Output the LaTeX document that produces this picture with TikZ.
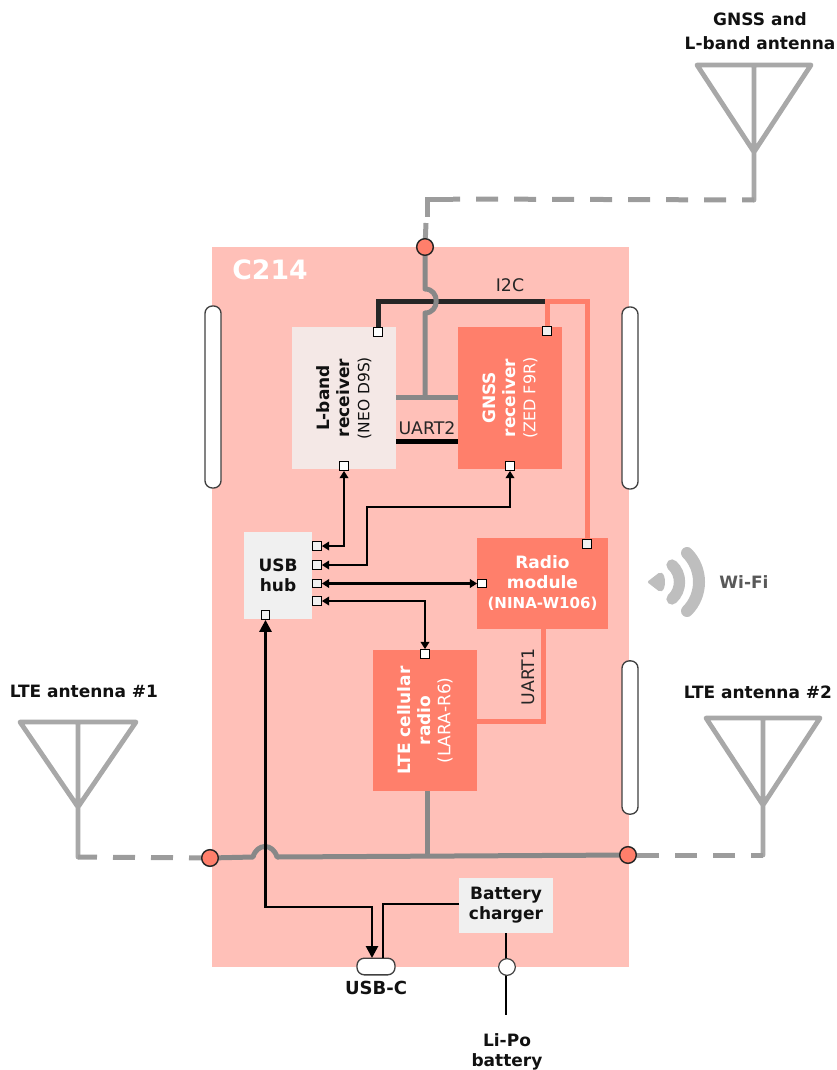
\documentclass[tikz,border=0pt]{standalone}
\usepackage{fontspec}
\setmainfont{DejaVu Sans}
\usetikzlibrary{arrows.meta}
\definecolor{panel}{HTML}{FFC0B8}
\definecolor{coral}{HTML}{FF7F6B}
\definecolor{lband}{HTML}{F4E8E6}
\definecolor{lgrey}{HTML}{F0F0F0}
\definecolor{ant}{HTML}{A8A8A8}
\definecolor{dashc}{HTML}{9C9C9C}
\definecolor{rf}{HTML}{888888}
\definecolor{ink}{HTML}{111111}
\definecolor{wifi}{HTML}{BEBEBE}
\newcommand{\boldf}{\fontsize{12.75}{15}\selectfont\bfseries}
\newcommand{\regf}[1]{\fontsize{#1}{15}\selectfont\mdseries}
\tikzset{
  x=0.75pt,y=-0.75pt,
  box/.style={inner sep=0pt,align=center,font=\boldf},
  pill/.style={draw=black!75,fill=white,line width=1pt,rounded corners=5.5pt,inner sep=0pt,minimum width=12pt},
  port/.style={draw=black,fill=white,line width=0.9pt,inner sep=0pt,minimum size=6.4pt},
  gport/.style={port,fill=lgrey},
  rfdot/.style={circle,draw=black!85,fill=coral,line width=1.1pt,inner sep=0pt,minimum size=12.5pt},
  lab/.style={font=\boldf,text=ink,align=center,inner sep=0pt},
  small/.style={font=\fontsize{13}{15}\selectfont,text=black!85,inner sep=0pt},
  antenna/.style={draw=ant,line width=3.6pt,line join=round,line cap=round},
  dashline/.style={draw=dashc,line width=3.75pt,dash pattern=on 16.5pt off 12pt},
  rfline/.style={draw=rf,line width=3.75pt,line join=round},
  orangeline/.style={draw=coral,line width=3.75pt,line join=miter},
  i2cline/.style={draw=black!85,line width=3.75pt,line join=miter},
  sig/.style={draw=black,line width=1.9pt,line join=miter,{Triangle[width=6.5pt,length=5.5pt]}-{Triangle[width=6.5pt,length=5.5pt]}},
  pwr/.style={draw=black,line width=1.9pt,line join=miter}
}
\begin{document}
\begin{tikzpicture}
\useasboundingbox (0,0) rectangle (836,1070);
% board
\node[fill=panel,inner sep=0pt,minimum width=312.75pt,minimum height=540pt] (board) at (420.5,607) {};
\node[font=\fontsize{20}{24}\selectfont\bfseries,text=white,inner sep=0pt] (title) at (270,270) {C214};
% side slots
\node[pill,minimum height=136.5pt] (slotL) at (213,397) {};
\node[pill,minimum height=136.5pt] (slotR) at (630,398) {};
\node[pill,minimum height=115pt] (slotRb) at (630,737.5) {};
% blocks
\node[box,fill=lband,text=ink,rotate=90,minimum width=106.5pt,minimum height=78pt] (lb) at (344,398)
  {L-band\\receiver\\{\regf{11.6}(NEO D9S)}};
\node[box,fill=coral,text=white,rotate=90,minimum width=106.5pt,minimum height=78pt] (gnss) at (510,398)
  {GNSS\\receiver\\{\regf{12}(ZED F9R)}};
\node[box,fill=coral,text=white,minimum width=98.25pt,minimum height=68.25pt] (radio) at (542.5,583.5)
  {Radio\\module\\{\fontsize{11.3}{15}\selectfont(NINA-W106)}};
\node[box,fill=coral,text=white,rotate=90,minimum width=105.75pt,minimum height=78pt] (lte) at (425,720.5)
  {LTE cellular\\radio\\{\regf{12.8}(LARA-R6)}};
\node[box,fill=lgrey,text=ink,minimum width=51pt,minimum height=65.25pt] (hub) at (278,575.5) {USB\\hub};
\node[box,fill=lgrey,text=ink,minimum width=70.5pt,minimum height=41.25pt] (chg) at (506,905.5) {Battery\\charger};
% ports
\node[port] (pLT) at (378,332) {};
\node[gport] (pGT) at (547,331) {};
\node[port] (pLB) at (344,466) {};
\node[port] (pGB) at (510,466) {};
\node[gport] (pH1) at (317,546) {};
\node[gport] (pH2) at (317,565) {};
\node[gport] (pH3) at (317,583.5) {};
\node[gport] (pH4) at (317,601) {};
\node[gport] (pHB) at (265.5,615) {};
\node[port] (pRL) at (482,583.5) {};
\node[gport] (pRT) at (587,544) {};
\node[port] (pLC) at (425,654) {};
% connector points
\coordinate (kI) at (545,301);
\coordinate (kO) at (587,301);
\coordinate (kG) at (367,507);
\coordinate (kV) at (372,907);
\coordinate (usbIn) at (372,958);
\coordinate (chgIn) at (383,958);
\coordinate (chgK) at (383,904);
\coordinate (chgE) at (459,904);
\coordinate (batEnd) at (506,1015);
\coordinate (uartL) at (396,441);
\coordinate (uartR) at (458,441);
\coordinate (u1A) at (543,629);
\coordinate (u1B) at (543,721);
\coordinate (u1C) at (477,721);
\coordinate (lteB) at (427,791);
\coordinate (lteJ) at (427,856);
\coordinate (rfT) at (425,397);
% RF dots and terminals
\node[rfdot] (rfTop) at (425,247) {};
\node[rfdot] (rfL) at (210,858) {};
\node[rfdot] (rfR) at (628,855) {};
\node[pill,minimum width=28.5pt,minimum height=12.5pt] (usbc) at (376,966.5) {};
% I2C
\draw[orangeline] (pGT) |- (kO) -- (pRT);
\draw[i2cline] (pLT) |- (kI);
% RF wiring inside board
\draw[rfline] (rfTop) -- (425,289) .. controls (440,289) and (440,313) .. (425,313) -- (rfT);
\draw[rfline] (396,397) -- (458,397);
\draw[rfline] (rfL) -- (253,857) .. controls (257,843) and (273,843) .. (277,857) -- (rfR);
\draw[rfline] (lteB) -- (lteJ);
% UARTs
\draw[draw=black,line width=3.75pt] (uartL) -- (uartR);
\node[small] (uart2) at (427,428) {UART2};
\draw[orangeline] (u1A) -- (u1B) -- (u1C);
\node[small,rotate=90] (uart1) at (528,677) {UART1};
\node[small] (i2c) at (510,285) {I2C};
% USB signals
\draw[sig] (pLB) |- (pH1);
\draw[sig] (pGB) |- (kG) |- (pH2);
\draw[sig] (pH3) -- (pRL);
\draw[sig] (pH4) -| (pLC);
\draw[draw=black,line width=2pt,line join=miter,{Triangle[width=9pt,length=9pt]}-{Triangle[width=9pt,length=9pt]}] (pHB) |- (kV) -- (usbIn);
\draw[pwr] (chgE) -- (chgK) -- (chgIn);
% battery
\draw[pwr] (chg) -- (batEnd);
\node[circle,draw=black!75,fill=white,line width=0.9pt,inner sep=0pt,minimum size=12.5pt] (batDot) at (507,967) {};
% antennas
\coordinate (a1L) at (20,722); \coordinate (a1R) at (136,722); \coordinate (a1A) at (78,807); \coordinate (a1T) at (78,722); \coordinate (a1C) at (78,857);
\coordinate (a2L) at (706,718); \coordinate (a2R) at (820,718); \coordinate (a2A) at (763,805); \coordinate (a2T) at (763,718); \coordinate (a2C) at (763,855);
\coordinate (a3L) at (697,65); \coordinate (a3R) at (811,65); \coordinate (a3A) at (754,152); \coordinate (a3T) at (754,65); \coordinate (a3C) at (754,200);
\draw[antenna] (a1L) -- (a1R) -- (a1A) -- cycle (a1T) -- (a1C);
\draw[antenna] (a2L) -- (a2R) -- (a2A) -- cycle (a2T) -- (a2C);
\draw[antenna] (a3L) -- (a3R) -- (a3A) -- cycle (a3T) -- (a3C);
\draw[dashline,dash phase=2.25pt] (a1C) -- (rfL);
\draw[dashline,dash phase=7.5pt] (a2C) -- (rfR);
\coordinate (gd1) at (453,199); \coordinate (gd2) at (427,199); \coordinate (gd3) at (427,217); \coordinate (gd4) at (426,223);
\draw[dashline,dash phase=7.5pt] (a3C) -- (gd1);
\draw[draw=dashc,line width=3.75pt,line join=miter] (gd1) -- (gd2) -- (gd3);
\draw[draw=dashc,line width=3.75pt] (gd4) -- (rfTop);
% wifi
\fill[wifi,rounded corners=1.5pt] (647,582) -- (660,572) .. controls (666,575) and (666,589) .. (660,592) -- cycle;
\draw[wifi,line width=8.5pt,line cap=round] (672,565) .. controls (682,574) and (682,590) .. (672,599);
\draw[wifi,line width=9pt,line cap=round] (687,553) .. controls (703,569) and (703,595) .. (687,611);
% labels
\node[lab,font=\fontsize{12.75}{18}\selectfont\bfseries] (antG) at (760,31) {GNSS and\\L-band antenna};
\node[lab] (ant1) at (84,691) {LTE antenna \#1};
\node[lab] (ant2) at (758,692) {LTE antenna \#2};
\node[lab,text=black!65] (wf) at (744,582) {Wi-Fi};
\node[lab,font=\fontsize{13.5}{15}\selectfont\bfseries] (usbl) at (376,988) {USB-C};
\node[lab] (lipo) at (507,1051.5) {Li-Po\\battery};
\end{tikzpicture}
\end{document}
